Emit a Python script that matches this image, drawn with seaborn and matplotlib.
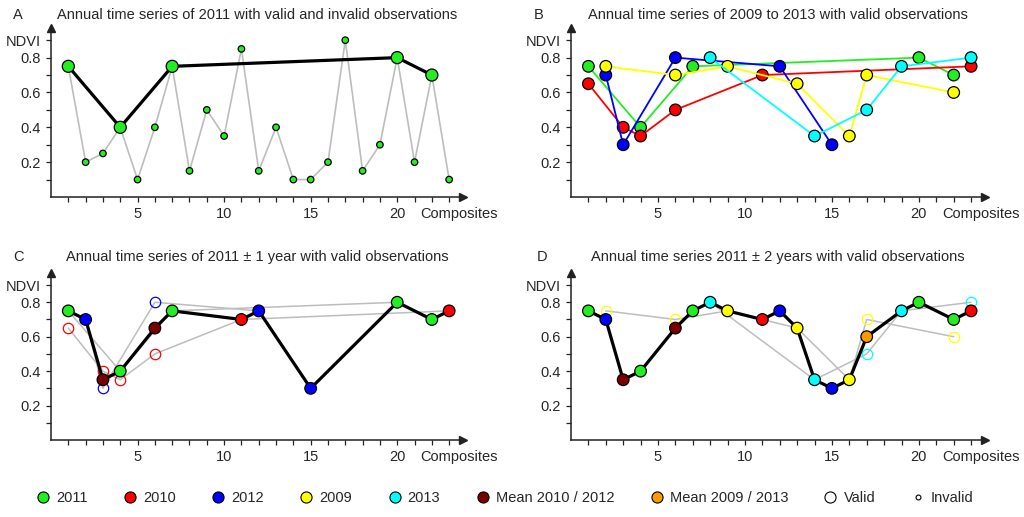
import matplotlib
matplotlib.use("Agg")
import matplotlib.pyplot as plt
from matplotlib.lines import Line2D
import seaborn as sns

sns.set_style("white")
plt.rcParams['font.family'] = ['Liberation Sans', 'DejaVu Sans']

# ---------------- data ----------------
composites = list(range(1, 24))
ndvi_2011_all = [0.75, 0.2, 0.25, 0.4, 0.1, 0.4, 0.75, 0.15, 0.5, 0.35, 0.85, 0.15,
                 0.4, 0.1, 0.1, 0.2, 0.9, 0.15, 0.3, 0.8, 0.2, 0.7, 0.1]

x_2011 = [1, 4, 7, 20, 22]
y_2011 = [0.75, 0.4, 0.75, 0.8, 0.7]
x_2010 = [1, 3, 4, 6, 11, 23]
y_2010 = [0.65, 0.4, 0.35, 0.5, 0.7, 0.75]
x_2012 = [2, 3, 6, 12, 15]
y_2012 = [0.7, 0.3, 0.8, 0.75, 0.3]
x_2009 = [2, 6, 9, 13, 16, 17, 22]
y_2009 = [0.75, 0.7, 0.75, 0.65, 0.35, 0.7, 0.6]
x_2013 = [8, 14, 17, 19, 23]
y_2013 = [0.8, 0.35, 0.5, 0.75, 0.8]

# 2011 +/- 1 year composite
x_c = [1, 2, 3, 4, 6, 7, 11, 12, 15, 20, 22, 23]
y_c = [0.75, 0.7, 0.35, 0.4, 0.65, 0.75, 0.7, 0.75, 0.3, 0.8, 0.7, 0.75]
src_c = ['2011', '2012', 'Mean 2010 / 2012', '2011', 'Mean 2010 / 2012', '2011',
         '2010', '2012', '2012', '2011', '2011', '2010']
open_c_2010 = [1, 3, 4, 6]
open_c_2012 = [3, 6]

# 2011 +/- 2 years composite
x_d = [1, 2, 3, 4, 6, 7, 8, 9, 11, 12, 13, 14, 15, 16, 17, 19, 20, 22, 23]
y_d = [0.75, 0.7, 0.35, 0.4, 0.65, 0.75, 0.8, 0.75, 0.7, 0.75, 0.65, 0.35, 0.3,
       0.35, 0.6, 0.75, 0.8, 0.7, 0.75]
src_d = ['2011', '2012', 'Mean 2010 / 2012', '2011', 'Mean 2010 / 2012', '2011',
         '2013', '2009', '2010', '2012', '2009', '2013', '2012', '2009',
         'Mean 2009 / 2013', '2013', '2011', '2011', '2010']
open_d_2009 = [2, 6, 17, 22]
open_d_2013 = [17, 23]

titles = ["Annual time series of 2011 with valid and invalid observations",
          "Annual time series of 2009 to 2013 with valid observations",
          "Annual time series of 2011 \u00b1 1 year with valid observations",
          "Annual time series 2011 \u00b1 2 years with valid observations"]
letters = ["A", "B", "C", "D"]
legend_labels = ['2011', '2010', '2012', '2009', '2013', 'Mean 2010 / 2012',
                 'Mean 2009 / 2013', 'Valid', 'Invalid']

palette = {'2011': '#22ee22', '2010': '#ff0000', '2012': '#0000ff',
           '2009': '#ffff00', '2013': '#00ffff',
           'Mean 2010 / 2012': '#7a0000', 'Mean 2009 / 2013': '#ff9900'}
GRAY = '#bdbdbd'
FS = 10.5

series = {'2011': (x_2011, y_2011), '2010': (x_2010, y_2010), '2012': (x_2012, y_2012),
          '2009': (x_2009, y_2009), '2013': (x_2013, y_2013)}

fig = plt.figure(figsize=(10.24, 5.17), dpi=100)
W, H = 1024, 517
boxes = [(51, 28, 463, 197), (571, 28, 985, 197), (51, 273, 463, 440), (571, 273, 985, 440)]
axes = []
for (l, t, r, b) in boxes:
    ax = fig.add_axes([l / W, 1 - b / H, (r - l) / W, (b - t) / H])
    axes.append(ax)


def style_axis(ax):
    ax.set_xlim(0, 23.8)
    ax.set_ylim(0, 0.97)
    for s in ['top', 'right']:
        ax.spines[s].set_visible(False)
    for s in ['left', 'bottom']:
        ax.spines[s].set_color('#222222')
        ax.spines[s].set_linewidth(1.1)
    ax.set_xticks(composites)
    ax.set_xticklabels([str(c) if c % 5 == 0 else '' for c in composites])
    yt = [0.1, 0.2, 0.3, 0.4, 0.5, 0.6, 0.7, 0.8, 0.9]
    ax.set_yticks(yt)
    ax.set_yticklabels(['', '0.2', '', '0.4', '', '0.6', '', '0.8', 'NDVI'])
    ax.tick_params(axis='both', direction='out', length=3.5, width=0.9,
                   color='#222222', labelsize=FS, pad=4, bottom=True, left=True)
    ax.set_xlabel('')
    ax.set_ylabel('')
    ax.plot([1], [0], marker='>', color='#222222', ms=6, transform=ax.transAxes, clip_on=False)
    ax.plot([0], [1], marker='^', color='#222222', ms=6, transform=ax.transAxes, clip_on=False)
    ax.annotate('Composites', xy=(23.58, 0), xycoords=('data', 'axes fraction'),
                xytext=(0, -7.5), textcoords='offset points', ha='center', va='top',
                fontsize=FS, annotation_clip=False)


def filled(ax, xs, ys, srcs, s=60, z=5):
    sns.scatterplot(x=xs, y=ys, hue=srcs, palette=palette, s=s, edgecolor='black',
                    linewidth=0.9, legend=False, ax=ax, zorder=z)


def open_pts(ax, xs, ys, color):
    sns.lineplot(x=xs, y=ys, ax=ax, linestyle='none', marker='o', ms=7.5,
                 mfc='none', mec=color, mew=0.9, sort=False, estimator=None, zorder=3)


def lookup(year, cs):
    xs, ys = series[year]
    return [ys[xs.index(c)] for c in cs]


# Panel A
ax = axes[0]
sns.lineplot(x=composites, y=ndvi_2011_all, ax=ax, color=GRAY, lw=1.2, sort=False,
             estimator=None, zorder=2)
inv_x = [c for c in composites if c not in x_2011]
inv_y = [ndvi_2011_all[c - 1] for c in inv_x]
filled(ax, inv_x, inv_y, ['2011'] * len(inv_x), s=22, z=3)
sns.lineplot(x=x_2011, y=y_2011, ax=ax, color='black', lw=2.3, sort=False,
             estimator=None, zorder=4)
filled(ax, x_2011, y_2011, ['2011'] * len(x_2011), s=75, z=5)

# Panel B
ax = axes[1]
for i, yr in enumerate(['2011', '2010', '2012', '2009', '2013']):
    xs, ys = series[yr]
    sns.lineplot(x=xs, y=ys, ax=ax, color=palette[yr], lw=1.3, sort=False,
                 estimator=None, zorder=2 + i)
    filled(ax, xs, ys, [yr] * len(xs), s=70, z=2.5 + i)

# Panel C
ax = axes[2]
for yr in ['2011', '2010', '2012']:
    xs, ys = series[yr]
    sns.lineplot(x=xs, y=ys, ax=ax, color=GRAY, lw=1.1, sort=False, estimator=None, zorder=2)
open_pts(ax, open_c_2010, lookup('2010', open_c_2010), palette['2010'])
open_pts(ax, open_c_2012, lookup('2012', open_c_2012), palette['2012'])
sns.lineplot(x=x_c, y=y_c, ax=ax, color='black', lw=2.3, sort=False, estimator=None, zorder=4)
filled(ax, x_c, y_c, src_c, s=70)

# Panel D
ax = axes[3]
for yr in ['2009', '2013']:
    xs, ys = series[yr]
    sns.lineplot(x=xs, y=ys, ax=ax, color=GRAY, lw=1.1, sort=False, estimator=None, zorder=2)
open_pts(ax, open_d_2009, lookup('2009', open_d_2009), palette['2009'])
open_pts(ax, open_d_2013, lookup('2013', open_d_2013), palette['2013'])
sns.lineplot(x=x_d, y=y_d, ax=ax, color='black', lw=2.3, sort=False, estimator=None, zorder=4)
filled(ax, x_d, y_d, src_d, s=70)

for ax in axes:
    style_axis(ax)

# titles
title_y = [1 - 15 / H, 1 - 15 / H, 1 - 257 / H, 1 - 257 / H]
letter_x = [13, 534, 13, 537]
for ax, (l, t, r, b), ttl, let, ty, lx in zip(axes, boxes, titles, letters, title_y, letter_x):
    fig.text((l + r) / 2 / W, ty, ttl, ha='center', va='center', fontsize=FS)
    fig.text(lx / W, ty, let, ha='left', va='center', fontsize=FS)

# legend
handles = []
for lab in legend_labels[:7]:
    handles.append(Line2D([], [], ls='none', marker='o', ms=8, mfc=palette[lab],
                          mec='black', mew=0.8))
handles.append(Line2D([], [], ls='none', marker='o', ms=8, mfc='none', mec='black', mew=0.8))
handles.append(Line2D([], [], ls='none', marker='o', ms=3.5, mfc='none', mec='black', mew=0.8))
fig.legend(handles, legend_labels, loc='center', bbox_to_anchor=(0.494, 1 - 498 / H),
           ncol=9, frameon=False, fontsize=FS, handlelength=0.7, handletextpad=0.55,
           columnspacing=2.55, borderaxespad=0, borderpad=0)

fig.savefig('out.png', dpi=100, facecolor='white')
